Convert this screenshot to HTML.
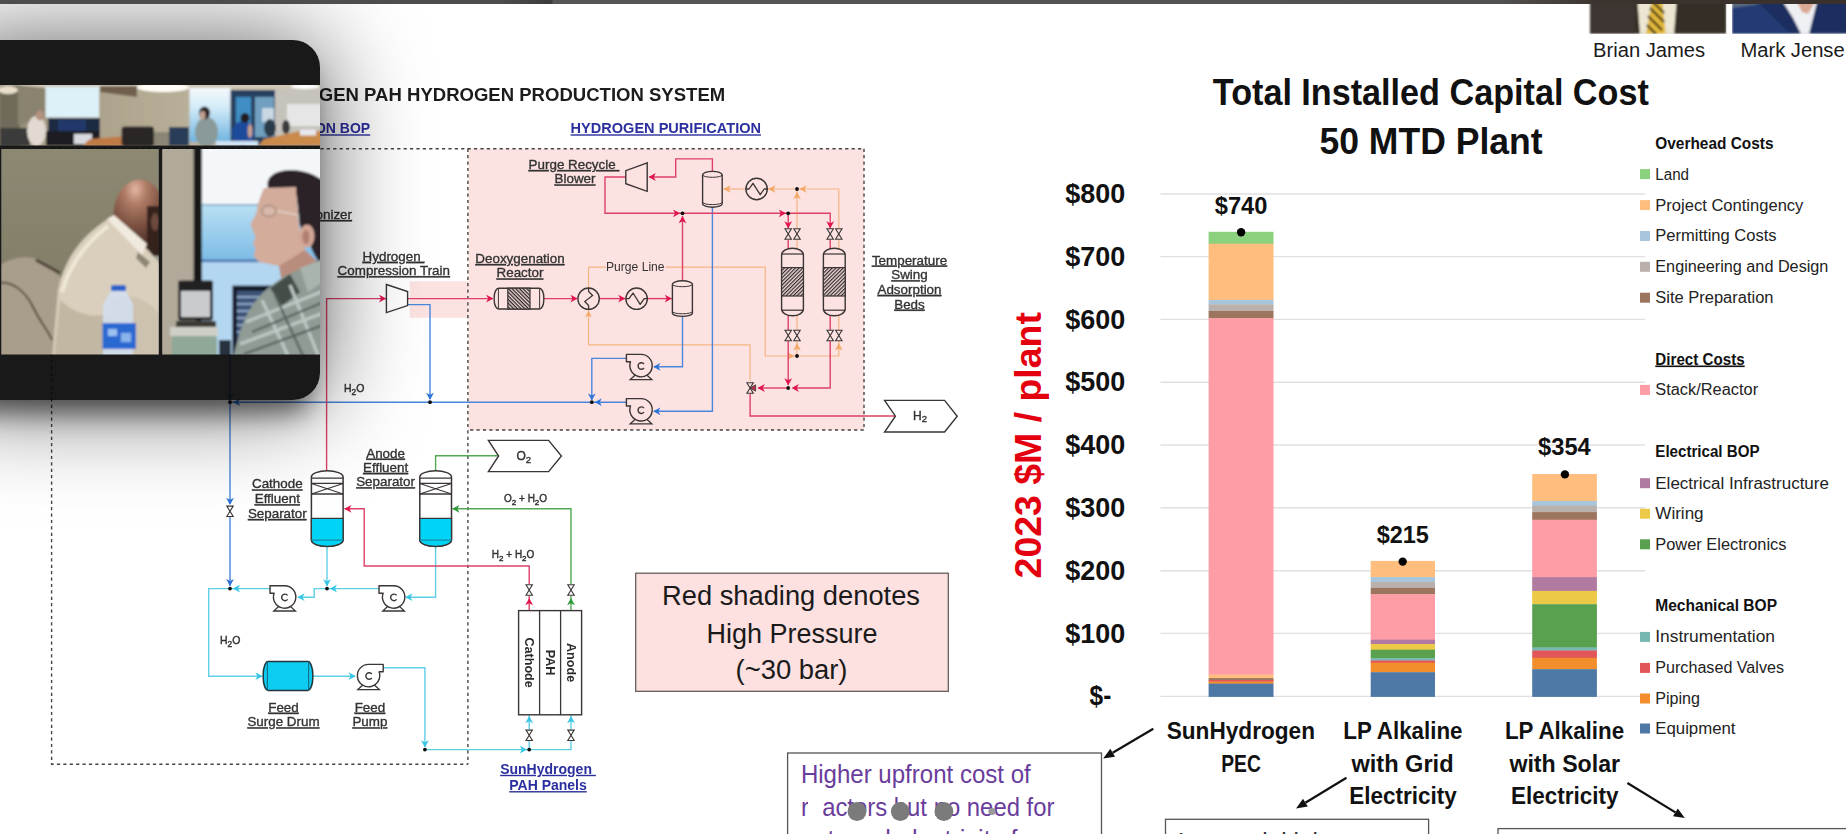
<!DOCTYPE html>
<html><head><meta charset="utf-8"><title>slide</title>
<style>
html,body{margin:0;padding:0;background:#fff;}
body{width:1846px;height:834px;overflow:hidden;position:relative;font-family:"Liberation Sans",sans-serif;}
svg{position:absolute;left:0;top:0;font-family:"Liberation Sans",sans-serif;}
#ov{position:absolute;left:-60px;top:40px;width:380px;height:359.5px;border-radius:27px;background:rgba(7,7,7,0.925);
box-shadow:0 3px 100px rgba(0,0,0,0.66), 0 22px 26px -10px rgba(0,0,0,0.55);}
#bar{position:absolute;left:0;top:0;width:1846px;height:3.6px;background:linear-gradient(90deg,#4d4d4b 0,#4d4d4b 500px,#3b3b39 552px,#565654 553px,#525150 1500px,#3c322e 1600px,#3a302c 1846px);}
</style></head><body>
<svg width="1846" height="834" viewBox="0 0 1846 834">
<defs><filter id="soft" x="0" y="0" width="100%" height="100%" filterUnits="userSpaceOnUse"><feGaussianBlur stdDeviation="0.45"/></filter></defs>
<g filter="url(#soft)">
<rect x="468.4" y="148.7" width="395.6" height="281.3" fill="#fde2e2"/>
<rect x="409.8" y="281.3" width="58.6" height="36.5" fill="#fde2e2"/>
<polyline points="51.6,148.7 864,148.7" fill="none" stroke="#444" stroke-width="1.4" stroke-dasharray="3.2 3.2"/>
<polyline points="51.6,148.7 51.6,764.2 467.9,764.2" fill="none" stroke="#444" stroke-width="1.4" stroke-dasharray="3.2 3.2"/>
<polyline points="467.9,148.7 467.9,764.2" fill="none" stroke="#444" stroke-width="1.4" stroke-dasharray="3.2 3.2"/>
<polyline points="864,148.7 864,430 467.9,430" fill="none" stroke="#444" stroke-width="1.4" stroke-dasharray="3.2 3.2"/>
<text x="318.8" y="100.5" font-size="18.5" font-weight="700" fill="#1c1c1c" textLength="406.4" lengthAdjust="spacingAndGlyphs" >GEN PAH HYDROGEN PRODUCTION SYSTEM</text>
<text x="370.2" y="133.3" font-size="14" font-weight="700" fill="#2b2f9e" text-anchor="end" text-decoration="underline" >ON BOP</text>
<text x="570.6" y="133.3" font-size="14" font-weight="700" fill="#2b2f9e" textLength="190.4" lengthAdjust="spacingAndGlyphs" text-decoration="underline" >HYDROGEN PURIFICATION</text>
<text x="352" y="219" font-size="13.4" fill="#333" text-anchor="end" text-decoration="underline" stroke="#333" stroke-width="0.35">onizer</text>
<text x="393.5" y="260.8" font-size="13.4" fill="#333" text-anchor="middle" text-decoration="underline" stroke="#333" stroke-width="0.35">Hydrogen&#160;</text>
<text x="393.8" y="275.1" font-size="13.4" fill="#333" text-anchor="middle" text-decoration="underline" stroke="#333" stroke-width="0.35">Compression Train</text>
<text x="574" y="169" font-size="13.4" fill="#333" text-anchor="middle" text-decoration="underline" stroke="#333" stroke-width="0.35">Purge Recycle&#160;</text>
<text x="575" y="183.4" font-size="13.4" fill="#333" text-anchor="middle" text-decoration="underline" stroke="#333" stroke-width="0.35">Blower</text>
<text x="520" y="263" font-size="13.4" fill="#333" text-anchor="middle" text-decoration="underline" stroke="#333" stroke-width="0.35">Deoxygenation</text>
<text x="520" y="277.4" font-size="13.4" fill="#333" text-anchor="middle" text-decoration="underline" stroke="#333" stroke-width="0.35">Reactor</text>
<text x="606" y="271" font-size="12.6" fill="#333" textLength="58.6" lengthAdjust="spacingAndGlyphs" >Purge Line</text>
<text x="909.5" y="264.5" font-size="13.4" fill="#333" text-anchor="middle" text-decoration="underline" stroke="#333" stroke-width="0.35">Temperature</text>
<text x="909.5" y="279.2" font-size="13.4" fill="#333" text-anchor="middle" text-decoration="underline" stroke="#333" stroke-width="0.35">Swing</text>
<text x="909.5" y="293.9" font-size="13.4" fill="#333" text-anchor="middle" text-decoration="underline" stroke="#333" stroke-width="0.35">Adsorption</text>
<text x="909.5" y="308.6" font-size="13.4" fill="#333" text-anchor="middle" text-decoration="underline" stroke="#333" stroke-width="0.35">Beds</text>
<text x="385.6" y="457.6" font-size="13.4" fill="#333" text-anchor="middle" text-decoration="underline" stroke="#333" stroke-width="0.35">Anode</text>
<text x="385.6" y="471.9" font-size="13.4" fill="#333" text-anchor="middle" text-decoration="underline" stroke="#333" stroke-width="0.35">Effluent</text>
<text x="385.6" y="486.2" font-size="13.4" fill="#333" text-anchor="middle" text-decoration="underline" stroke="#333" stroke-width="0.35">Separator</text>
<text x="277.3" y="488.4" font-size="13.4" fill="#333" text-anchor="middle" text-decoration="underline" stroke="#333" stroke-width="0.35">Cathode</text>
<text x="277.3" y="503.2" font-size="13.4" fill="#333" text-anchor="middle" text-decoration="underline" stroke="#333" stroke-width="0.35">Effluent</text>
<text x="277.3" y="518" font-size="13.4" fill="#333" text-anchor="middle" text-decoration="underline" stroke="#333" stroke-width="0.35">Separator</text>
<text x="283.5" y="711.7" font-size="13.4" fill="#333" text-anchor="middle" text-decoration="underline" stroke="#333" stroke-width="0.35">Feed</text>
<text x="283.5" y="726.3" font-size="13.4" fill="#333" text-anchor="middle" text-decoration="underline" stroke="#333" stroke-width="0.35">Surge Drum</text>
<text x="369.9" y="711.7" font-size="13.4" fill="#333" text-anchor="middle" text-decoration="underline" stroke="#333" stroke-width="0.35">Feed</text>
<text x="369.9" y="726.3" font-size="13.4" fill="#333" text-anchor="middle" text-decoration="underline" stroke="#333" stroke-width="0.35">Pump</text>
<text x="548" y="773.8" font-size="14" font-weight="700" fill="#2b2f9e" text-anchor="middle" text-decoration="underline" >SunHydrogen&#160;</text>
<text x="548" y="790.1" font-size="14" font-weight="700" fill="#2b2f9e" text-anchor="middle" text-decoration="underline" >PAH Panels</text>
<text x="344" y="392" font-size="10.5" fill="#333" stroke="#333" stroke-width="0.4">H<tspan dy="2.6" font-size="8.4">2</tspan><tspan dy="-2.6" font-size="1">&#8203;</tspan>O</text>
<text x="220" y="644.2" font-size="10.5" fill="#333" stroke="#333" stroke-width="0.4">H<tspan dy="2.6" font-size="8.4">2</tspan><tspan dy="-2.6" font-size="1">&#8203;</tspan>O</text>
<text x="504" y="502" font-size="10" fill="#333" stroke="#333" stroke-width="0.4">O<tspan dy="2.6" font-size="8.0">2</tspan><tspan dy="-2.6" font-size="1">&#8203;</tspan> + H<tspan dy="2.6" font-size="8.0">2</tspan><tspan dy="-2.6" font-size="1">&#8203;</tspan>O</text>
<text x="491.8" y="558" font-size="10" fill="#333" stroke="#333" stroke-width="0.4">H<tspan dy="2.6" font-size="8.0">2</tspan><tspan dy="-2.6" font-size="1">&#8203;</tspan> + H<tspan dy="2.6" font-size="8.0">2</tspan><tspan dy="-2.6" font-size="1">&#8203;</tspan>O</text>
<polyline points="588.5,310 588.5,344.8 750.1,344.8 750.1,381" fill="none" stroke="#f3b582" stroke-width="1.2" />
<polyline points="588.5,288 588.5,267.1 606,267.1" fill="none" stroke="#f3b582" stroke-width="1.2" />
<polyline points="665.5,267.1 765.2,267.1 765.2,356 838.8,356 838.8,341" fill="none" stroke="#f3b582" stroke-width="1.2" />
<polyline points="797,356 797,341" fill="none" stroke="#f3b582" stroke-width="1.2" />
<polyline points="797,330 797,240" fill="none" stroke="#f3b582" stroke-width="1.2" />
<polyline points="838.8,330 838.8,240" fill="none" stroke="#f3b582" stroke-width="1.2" />
<polyline points="838.8,228.5 838.8,189 797,189" fill="none" stroke="#f3b582" stroke-width="1.2" />
<polyline points="797,228.5 797,189 767.3,189" fill="none" stroke="#f3b582" stroke-width="1.2" />
<polyline points="745.9,189 723.6,189" fill="none" stroke="#f3b582" stroke-width="1.2" />
<polygon points="588.5,310.5 585,317.5 588.5,315.5 592,317.5" fill="#f2a968"/>
<polygon points="723.2,189 730.7,185.2 728.7,189 730.7,192.8" fill="#f2a968"/>
<polygon points="768,189 775.5,185.2 773.5,189 775.5,192.8" fill="#f2a968"/>
<polygon points="799.2,189 806.7,185.2 804.7,189 806.7,192.8" fill="#f2a968"/>
<polygon points="797,191.8 793.2,199.3 797,197.3 800.8,199.3" fill="#f2a968"/>
<polygon points="794.6,356 787.1,352.2 789.1,356 787.1,359.8" fill="#f2a968"/>
<polygon points="797,343 793.2,350.5 797,348.5 800.8,350.5" fill="#f2a968"/>
<polygon points="838.8,343 835,350.5 838.8,348.5 842.6,350.5" fill="#f2a968"/>
<polyline points="712.4,207 712.4,411.3 654,411.3" fill="none" stroke="#4a86dc" stroke-width="1.4" />
<polyline points="682.5,316 682.5,366.8 654,366.8" fill="none" stroke="#4a86dc" stroke-width="1.4" />
<polyline points="626,358.4 591.8,358.4 591.8,400" fill="none" stroke="#4a86dc" stroke-width="1.4" />
<polyline points="626,402.2 592,402.2" fill="none" stroke="#4a86dc" stroke-width="1.4" />
<polyline points="592,402.2 230,402.2" fill="none" stroke="#4a86dc" stroke-width="1.4" />
<polyline points="407.6,304.6 430,304.6 430,399" fill="none" stroke="#4a86dc" stroke-width="1.4" />
<polyline points="230,340 230,504" fill="none" stroke="#4a86dc" stroke-width="1.4" />
<polyline points="230,517 230,586" fill="none" stroke="#4a86dc" stroke-width="1.4" />
<polygon points="653.2,411.3 660.4,407.4 658.4,411.3 660.4,415.2" fill="#2f74d8"/>
<polygon points="653.2,366.8 660.4,362.9 658.4,366.8 660.4,370.7" fill="#2f74d8"/>
<polygon points="591.8,400.6 587.9,393.4 591.8,395.4 595.7,393.4" fill="#2f74d8"/>
<polygon points="594.6,402.2 601.8,398.3 599.8,402.2 601.8,406.1" fill="#2f74d8"/>
<polygon points="430,400 426.1,392.8 430,394.8 433.9,392.8" fill="#2f74d8"/>
<polygon points="233,402.2 240.2,398.3 238.2,402.2 240.2,406.1" fill="#2f74d8"/>
<polygon points="230,400.5 226.1,393.3 230,395.3 233.9,393.3" fill="#2f74d8"/>
<polygon points="230,505 226.1,497.8 230,499.8 233.9,497.8" fill="#2f74d8"/>
<polygon points="230,586.3 226.1,579.1 230,581.1 233.9,579.1" fill="#2f74d8"/>
<polyline points="327,546 327,586" fill="none" stroke="#5fcfe6" stroke-width="1.4" />
<polyline points="435.6,546 435.6,597.2 406,597.2" fill="none" stroke="#5fcfe6" stroke-width="1.4" />
<polyline points="379.3,588.6 327,588.6" fill="none" stroke="#5fcfe6" stroke-width="1.4" />
<polyline points="327,588.6 314.2,588.6 314.2,597.2 298,597.2" fill="none" stroke="#5fcfe6" stroke-width="1.4" />
<polyline points="270.3,588.6 208.7,588.6 208.7,676.2 262,676.2" fill="none" stroke="#5fcfe6" stroke-width="1.4" />
<polyline points="312.7,676.2 355,676.2" fill="none" stroke="#5fcfe6" stroke-width="1.4" />
<polyline points="384,667.8 424.9,667.8 424.9,747" fill="none" stroke="#5fcfe6" stroke-width="1.4" />
<polyline points="424.9,749.6 571,749.6 571,741" fill="none" stroke="#5fcfe6" stroke-width="1.4" />
<polyline points="529.2,749.6 529.2,741" fill="none" stroke="#5fcfe6" stroke-width="1.4" />
<polyline points="529.2,729.5 529.2,715" fill="none" stroke="#5fcfe6" stroke-width="1.4" />
<polyline points="571,729.5 571,715" fill="none" stroke="#5fcfe6" stroke-width="1.4" />
<polygon points="327,586.5 323.1,579.3 327,581.3 330.9,579.3" fill="#38c6e6"/>
<polygon points="405.2,597.2 412.4,593.3 410.4,597.2 412.4,601.1" fill="#38c6e6"/>
<polygon points="329.8,588.6 337,584.7 335,588.6 337,592.5" fill="#38c6e6"/>
<polygon points="297.4,597.2 304.6,593.3 302.6,597.2 304.6,601.1" fill="#38c6e6"/>
<polygon points="232.8,588.6 240,584.7 238,588.6 240,592.5" fill="#38c6e6"/>
<polygon points="262.6,676.2 255.4,672.3 257.4,676.2 255.4,680.1" fill="#38c6e6"/>
<polygon points="355.8,676.2 348.6,672.3 350.6,676.2 348.6,680.1" fill="#38c6e6"/>
<polygon points="424.9,747.4 421,740.2 424.9,742.2 428.8,740.2" fill="#38c6e6"/>
<polygon points="527,749.6 519.8,745.7 521.8,749.6 519.8,753.5" fill="#38c6e6"/>
<polygon points="529.2,716 525.3,723.2 529.2,721.2 533.1,723.2" fill="#38c6e6"/>
<polygon points="571,716 567.1,723.2 571,721.2 574.9,723.2" fill="#38c6e6"/>
<polyline points="435.6,471.5 435.6,455.8 498.5,455.8" fill="none" stroke="#52a852" stroke-width="1.4" />
<polyline points="571,584 571,508.8 452.5,508.8" fill="none" stroke="#52a852" stroke-width="1.4" />
<polyline points="571,596 571,611" fill="none" stroke="#52a852" stroke-width="1.4" />
<polygon points="452.2,508.8 459.4,504.9 457.4,508.8 459.4,512.7" fill="#2f9a3a"/>
<polygon points="571,598 567.1,605.2 571,603.2 574.9,605.2" fill="#2f9a3a"/>
<polyline points="326.6,471.5 326.6,298.6 386,298.6" fill="none" stroke="#dd4068" stroke-width="1.4" />
<polyline points="407.6,298.6 493,298.6" fill="none" stroke="#dd4068" stroke-width="1.4" />
<polyline points="543.8,298.6 577,298.6" fill="none" stroke="#dd4068" stroke-width="1.4" />
<polyline points="599.4,298.6 625,298.6" fill="none" stroke="#dd4068" stroke-width="1.4" />
<polyline points="647.2,298.6 671.5,298.6" fill="none" stroke="#dd4068" stroke-width="1.4" />
<polyline points="682.5,281 682.5,216" fill="none" stroke="#dd4068" stroke-width="1.4" />
<polyline points="626,177 605,177 605,213.3 830.2,213.3 830.2,228" fill="none" stroke="#dd4068" stroke-width="1.4" />
<polyline points="788.2,213.3 788.2,228" fill="none" stroke="#dd4068" stroke-width="1.4" />
<polyline points="649,177 675.7,177 675.7,158.9 712.4,158.9 712.4,171.5" fill="none" stroke="#dd4068" stroke-width="1.4" />
<polyline points="788.2,240 788.2,248.5" fill="none" stroke="#dd4068" stroke-width="1.4" />
<polyline points="830.2,240 830.2,248.5" fill="none" stroke="#dd4068" stroke-width="1.4" />
<polyline points="788.2,315.5 788.2,330" fill="none" stroke="#dd4068" stroke-width="1.4" />
<polyline points="830.2,315.5 830.2,330" fill="none" stroke="#dd4068" stroke-width="1.4" />
<polyline points="788.2,341 788.2,385" fill="none" stroke="#dd4068" stroke-width="1.4" />
<polyline points="830.2,341 830.2,388 793,388" fill="none" stroke="#dd4068" stroke-width="1.4" />
<polyline points="788.2,388 758,388" fill="none" stroke="#dd4068" stroke-width="1.4" />
<polyline points="750.1,394 750.1,416 895.5,416" fill="none" stroke="#dd4068" stroke-width="1.4" />
<polyline points="529.2,584 529.2,566 364.2,566 364.2,508.8 344.5,508.8" fill="none" stroke="#dd4068" stroke-width="1.4" />
<polyline points="529.2,596 529.2,611" fill="none" stroke="#dd4068" stroke-width="1.4" />
<polygon points="386.2,298.6 379,294.7 381,298.6 379,302.5" fill="#e0184e"/>
<polygon points="493.4,298.6 486.2,294.7 488.2,298.6 486.2,302.5" fill="#e0184e"/>
<polygon points="577.6,298.6 570.4,294.7 572.4,298.6 570.4,302.5" fill="#e0184e"/>
<polygon points="625.4,298.6 618.2,294.7 620.2,298.6 618.2,302.5" fill="#e0184e"/>
<polygon points="672,298.6 664.8,294.7 666.8,298.6 664.8,302.5" fill="#e0184e"/>
<polygon points="682.5,216 678.6,223.2 682.5,221.2 686.4,223.2" fill="#e0184e"/>
<polygon points="680.2,213.3 673,209.4 675,213.3 673,217.2" fill="#e0184e"/>
<polygon points="786,213.3 778.8,209.4 780.8,213.3 778.8,217.2" fill="#e0184e"/>
<polygon points="788.2,228.4 784.3,221.2 788.2,223.2 792.1,221.2" fill="#e0184e"/>
<polygon points="830.2,228.4 826.3,221.2 830.2,223.2 834.1,221.2" fill="#e0184e"/>
<polygon points="648.6,177 655.8,173.1 653.8,177 655.8,180.9" fill="#e0184e"/>
<polygon points="788.2,385.4 784.3,378.2 788.2,380.2 792.1,378.2" fill="#e0184e"/>
<polygon points="791.6,388 798.8,384.1 796.8,388 798.8,391.9" fill="#e0184e"/>
<polygon points="757.6,388 764.8,384.1 762.8,388 764.8,391.9" fill="#e0184e"/>
<polygon points="344.2,508.8 351.4,504.9 349.4,508.8 351.4,512.7" fill="#e0184e"/>
<polygon points="529.2,598 525.3,605.2 529.2,603.2 533.1,605.2" fill="#e0184e"/>
<circle cx="682.5" cy="213.3" r="1.9" fill="#111"/>
<circle cx="788.2" cy="213.3" r="1.9" fill="#111"/>
<circle cx="797" cy="189" r="1.9" fill="#111"/>
<circle cx="797" cy="356" r="1.9" fill="#111"/>
<circle cx="788.2" cy="388" r="1.9" fill="#111"/>
<circle cx="591.8" cy="402.2" r="1.9" fill="#111"/>
<circle cx="430" cy="402.2" r="1.9" fill="#111"/>
<circle cx="230" cy="402.2" r="1.9" fill="#111"/>
<circle cx="230" cy="588.6" r="1.9" fill="#111"/>
<circle cx="327" cy="588.6" r="1.9" fill="#111"/>
<circle cx="424.9" cy="749.6" r="1.9" fill="#111"/>
<circle cx="529.2" cy="749.6" r="1.9" fill="#111"/>
<polygon points="785,228.8 791.4,228.8 788.2,234" fill="#fde2e2" stroke="#3a3434" stroke-width="1.1" stroke-linejoin="miter"/><polygon points="785,239.2 791.4,239.2 788.2,234" fill="#fde2e2" stroke="#3a3434" stroke-width="1.1" stroke-linejoin="miter"/>
<polygon points="785,330.3 791.4,330.3 788.2,335.5" fill="#fde2e2" stroke="#3a3434" stroke-width="1.1" stroke-linejoin="miter"/><polygon points="785,340.7 791.4,340.7 788.2,335.5" fill="#fde2e2" stroke="#3a3434" stroke-width="1.1" stroke-linejoin="miter"/>
<polygon points="793.8,228.8 800.2,228.8 797,234" fill="#fde2e2" stroke="#3a3434" stroke-width="1.1" stroke-linejoin="miter"/><polygon points="793.8,239.2 800.2,239.2 797,234" fill="#fde2e2" stroke="#3a3434" stroke-width="1.1" stroke-linejoin="miter"/>
<polygon points="793.8,330.3 800.2,330.3 797,335.5" fill="#fde2e2" stroke="#3a3434" stroke-width="1.1" stroke-linejoin="miter"/><polygon points="793.8,340.7 800.2,340.7 797,335.5" fill="#fde2e2" stroke="#3a3434" stroke-width="1.1" stroke-linejoin="miter"/>
<polygon points="827,228.8 833.4,228.8 830.2,234" fill="#fde2e2" stroke="#3a3434" stroke-width="1.1" stroke-linejoin="miter"/><polygon points="827,239.2 833.4,239.2 830.2,234" fill="#fde2e2" stroke="#3a3434" stroke-width="1.1" stroke-linejoin="miter"/>
<polygon points="827,330.3 833.4,330.3 830.2,335.5" fill="#fde2e2" stroke="#3a3434" stroke-width="1.1" stroke-linejoin="miter"/><polygon points="827,340.7 833.4,340.7 830.2,335.5" fill="#fde2e2" stroke="#3a3434" stroke-width="1.1" stroke-linejoin="miter"/>
<polygon points="835.6,228.8 842,228.8 838.8,234" fill="#fde2e2" stroke="#3a3434" stroke-width="1.1" stroke-linejoin="miter"/><polygon points="835.6,239.2 842,239.2 838.8,234" fill="#fde2e2" stroke="#3a3434" stroke-width="1.1" stroke-linejoin="miter"/>
<polygon points="835.6,330.3 842,330.3 838.8,335.5" fill="#fde2e2" stroke="#3a3434" stroke-width="1.1" stroke-linejoin="miter"/><polygon points="835.6,340.7 842,340.7 838.8,335.5" fill="#fde2e2" stroke="#3a3434" stroke-width="1.1" stroke-linejoin="miter"/>
<polygon points="226.8,506.1 233.2,506.1 230,511.3" fill="#fff" stroke="#3a3434" stroke-width="1.1" stroke-linejoin="miter"/><polygon points="226.8,516.5 233.2,516.5 230,511.3" fill="#fff" stroke="#3a3434" stroke-width="1.1" stroke-linejoin="miter"/>
<polygon points="526,584.8 532.4,584.8 529.2,590" fill="#fff" stroke="#3a3434" stroke-width="1.1" stroke-linejoin="miter"/><polygon points="526,595.2 532.4,595.2 529.2,590" fill="#fff" stroke="#3a3434" stroke-width="1.1" stroke-linejoin="miter"/>
<polygon points="567.8,584.8 574.2,584.8 571,590" fill="#fff" stroke="#3a3434" stroke-width="1.1" stroke-linejoin="miter"/><polygon points="567.8,595.2 574.2,595.2 571,590" fill="#fff" stroke="#3a3434" stroke-width="1.1" stroke-linejoin="miter"/>
<polygon points="526,730.1 532.4,730.1 529.2,735.3" fill="#fff" stroke="#3a3434" stroke-width="1.1" stroke-linejoin="miter"/><polygon points="526,740.5 532.4,740.5 529.2,735.3" fill="#fff" stroke="#3a3434" stroke-width="1.1" stroke-linejoin="miter"/>
<polygon points="567.8,730.1 574.2,730.1 571,735.3" fill="#fff" stroke="#3a3434" stroke-width="1.1" stroke-linejoin="miter"/><polygon points="567.8,740.5 574.2,740.5 571,735.3" fill="#fff" stroke="#3a3434" stroke-width="1.1" stroke-linejoin="miter"/>
<polygon points="746.9,382.8 753.3,382.8 750.1,388" fill="#fde2e2" stroke="#3a3434" stroke-width="1.1" stroke-linejoin="miter"/><polygon points="746.9,393.2 753.3,393.2 750.1,388" fill="#fde2e2" stroke="#3a3434" stroke-width="1.1" stroke-linejoin="miter"/>
<polygon points="750.1,388 755.6,384.8 755.6,391.2" fill="#b8304e" stroke="#3a3434" stroke-width="0.8"/>
<polygon points="386.4,284.5 407.6,291.5 407.6,305.6 386.4,312.6" fill="#fff" stroke="#3a3434" stroke-width="1.4"/>
<polygon points="647.2,162.8 625.8,170.7 625.8,183.7 647.2,191.3" fill="#fde2e2" stroke="#3a3434" stroke-width="1.4"/>
<rect x="494.2" y="288.2" width="49.6" height="20.8" rx="4.5" ry="9" fill="#fde2e2" stroke="#3a3434" stroke-width="1.4"/>
<defs><pattern id="h1" width="2.6" height="2.6" patternUnits="userSpaceOnUse" patternTransform="rotate(45)"><rect width="2.6" height="2.6" fill="#f3d9d9"/><rect width="2.6" height="1.3" fill="#2f2a2a"/></pattern><pattern id="h2" width="2.6" height="2.6" patternUnits="userSpaceOnUse" patternTransform="rotate(-45)"><rect width="2.6" height="2.6" fill="#f3d9d9"/><rect width="2.6" height="1.2" fill="#2f2a2a"/></pattern></defs>
<rect x="507.8" y="288.2" width="22.2" height="20.8" fill="url(#h1)" stroke="#3a3434" stroke-width="1.2"/>
<polyline points="498.4,288.5 498.4,308.7" fill="none" stroke="#3a3434" stroke-width="1" />
<polyline points="539.6,288.5 539.6,308.7" fill="none" stroke="#3a3434" stroke-width="1" />
<circle cx="588.6" cy="298.7" r="10.7" fill="#fde2e2" stroke="#3a3434" stroke-width="1.4"/>
<circle cx="636.6" cy="298.7" r="10.7" fill="#fde2e2" stroke="#3a3434" stroke-width="1.4"/>
<circle cx="756.6" cy="189" r="10.7" fill="#fde2e2" stroke="#3a3434" stroke-width="1.4"/>
<polyline points="588.6,288 588.6,291.5 592.6,295.5 584.8,301.5 588.6,305.5 588.6,309.4" fill="none" stroke="#3a3434" stroke-width="1.3"/>
<path d="M626,298.7 L629,298.7 L633,293 L640.2,304.4 L644.2,298.7 L647.2,298.7" fill="none" stroke="#3a3434" stroke-width="1.3" stroke-linejoin="round"/>
<path d="M746,189 L749,189 L753,183.3 L760.2,194.7 L764.2,189 L767.2,189" fill="none" stroke="#3a3434" stroke-width="1.3" stroke-linejoin="round"/>
<path d="M672.4,284.3 A10,3.5 0 0 1 692.4,284.3 V312.9 A10,3.5 0 0 1 672.4,312.9 Z" fill="#fde2e2" stroke="#3a3434" stroke-width="1.4"/><path d="M672.4,284.3 A10,2.4 0 0 0 692.4,284.3 M672.4,311.4 A10,2.4 0 0 0 692.4,311.4" fill="none" stroke="#3a3434" stroke-width="1"/>
<path d="M702.6,174.9 A9.8,3.5 0 0 1 722.2,174.9 V203.7 A9.8,3.5 0 0 1 702.6,203.7 Z" fill="#fde2e2" stroke="#3a3434" stroke-width="1.4"/><path d="M702.6,174.9 A9.8,2.4 0 0 0 722.2,174.9 M702.6,202.2 A9.8,2.4 0 0 0 722.2,202.2" fill="none" stroke="#3a3434" stroke-width="1"/>
<path d="M781.6,255 A10.9,6.8 0 0 1 803.4,255 V309 A10.9,6.8 0 0 1 781.6,309 Z" fill="#fde2e2" stroke="#3a3434" stroke-width="1.4"/>
<polyline points="781.6,254 803.4,254" fill="none" stroke="#3a3434" stroke-width="1.2" />
<polyline points="781.6,310.2 803.4,310.2" fill="none" stroke="#3a3434" stroke-width="1.2" />
<rect x="781.6" y="267.6" width="21.8" height="28.4" fill="url(#h2)" stroke="#3a3434" stroke-width="1.2"/>
<path d="M823.4,255 A10.9,6.8 0 0 1 845.2,255 V309 A10.9,6.8 0 0 1 823.4,309 Z" fill="#fde2e2" stroke="#3a3434" stroke-width="1.4"/>
<polyline points="823.4,254 845.2,254" fill="none" stroke="#3a3434" stroke-width="1.2" />
<polyline points="823.4,310.2 845.2,310.2" fill="none" stroke="#3a3434" stroke-width="1.2" />
<rect x="823.4" y="267.6" width="21.8" height="28.4" fill="url(#h2)" stroke="#3a3434" stroke-width="1.2"/>
<path d="M311.4,477 A15.85,6.2 0 0 1 343.1,477 V540 A15.85,6.4 0 0 1 311.4,540 Z" fill="#fff" stroke="#3a3434" stroke-width="1.5"/>
<path d="M311.4,518.4 H343.1 V540 A15.85,6.4 0 0 1 311.4,540 Z" fill="#06d4f6" stroke="#3a3434" stroke-width="1.3"/>
<polyline points="311.4,540.2 343.1,540.2" fill="none" stroke="#0a8aa8" stroke-width="1.2" />
<polyline points="311.4,478.2 343.1,478.2" fill="none" stroke="#3a3434" stroke-width="1.3" />
<polyline points="311.4,483.4 343.1,483.4" fill="none" stroke="#3a3434" stroke-width="1.3" />
<polyline points="311.4,494 343.1,494" fill="none" stroke="#3a3434" stroke-width="1.3" />
<polyline points="311.4,483.6 343.1,494" fill="none" stroke="#3a3434" stroke-width="1.1" />
<polyline points="311.4,494 343.1,483.6" fill="none" stroke="#3a3434" stroke-width="1.1" />
<path d="M419.8,477 A15.85,6.2 0 0 1 451.5,477 V540 A15.85,6.4 0 0 1 419.8,540 Z" fill="#fff" stroke="#3a3434" stroke-width="1.5"/>
<path d="M419.8,518.4 H451.5 V540 A15.85,6.4 0 0 1 419.8,540 Z" fill="#06d4f6" stroke="#3a3434" stroke-width="1.3"/>
<polyline points="419.8,540.2 451.5,540.2" fill="none" stroke="#0a8aa8" stroke-width="1.2" />
<polyline points="419.8,478.2 451.5,478.2" fill="none" stroke="#3a3434" stroke-width="1.3" />
<polyline points="419.8,483.4 451.5,483.4" fill="none" stroke="#3a3434" stroke-width="1.3" />
<polyline points="419.8,494 451.5,494" fill="none" stroke="#3a3434" stroke-width="1.3" />
<polyline points="419.8,483.6 451.5,494" fill="none" stroke="#3a3434" stroke-width="1.1" />
<polyline points="419.8,494 451.5,483.6" fill="none" stroke="#3a3434" stroke-width="1.1" />
<polygon points="635,375.2 630.2,379.6 651.8,379.6 647,375.2" fill="#fde2e2" stroke="#3a3434" stroke-width="1.3"/><path d="M626.4,354.4 H641 A11.2,11.2 0 1 1 630.5,361.8 H626.4 Z" fill="#fde2e2" stroke="#3a3434" stroke-width="1.4" stroke-linejoin="round"/><path d="M644,364 A3.3,3.3 0 1 0 644,368" fill="none" stroke="#3a3434" stroke-width="1.4"/>
<polygon points="635,419.4 630.2,423.8 651.8,423.8 647,419.4" fill="#fde2e2" stroke="#3a3434" stroke-width="1.3"/><path d="M626.4,398.6 H641 A11.2,11.2 0 1 1 630.5,406 H626.4 Z" fill="#fde2e2" stroke="#3a3434" stroke-width="1.4" stroke-linejoin="round"/><path d="M644,408.2 A3.3,3.3 0 1 0 644,412.2" fill="none" stroke="#3a3434" stroke-width="1.4"/>
<polygon points="278.6,606.6 273.8,611 295.4,611 290.6,606.6" fill="#fff" stroke="#3a3434" stroke-width="1.3"/><path d="M270,585.8 H284.6 A11.2,11.2 0 1 1 274.1,593.2 H270 Z" fill="#fff" stroke="#3a3434" stroke-width="1.4" stroke-linejoin="round"/><path d="M287.6,595.4 A3.3,3.3 0 1 0 287.6,599.4" fill="none" stroke="#3a3434" stroke-width="1.4"/>
<polygon points="387.6,606.6 382.8,611 404.4,611 399.6,606.6" fill="#fff" stroke="#3a3434" stroke-width="1.3"/><path d="M379,585.8 H393.6 A11.2,11.2 0 1 1 383.1,593.2 H379 Z" fill="#fff" stroke="#3a3434" stroke-width="1.4" stroke-linejoin="round"/><path d="M396.6,595.4 A3.3,3.3 0 1 0 396.6,599.4" fill="none" stroke="#3a3434" stroke-width="1.4"/>
<polygon points="374.6,685.2 379.4,689.6 357.8,689.6 362.6,685.2" fill="#fff" stroke="#3a3434" stroke-width="1.3"/><path d="M383.2,664.4 H368.6 A11.2,11.2 0 1 0 379.1,671.8 H383.2 Z" fill="#fff" stroke="#3a3434" stroke-width="1.4" stroke-linejoin="round"/><path d="M371.8,674 A3.3,3.3 0 1 0 371.8,678" fill="none" stroke="#3a3434" stroke-width="1.4"/>
<rect x="263.2" y="661.6" width="49.6" height="28.8" rx="5" ry="13" fill="#0ecdf2" stroke="#20343c" stroke-width="1.5"/>
<polyline points="267.4,662.2 267.4,689.8" fill="none" stroke="#1a6c86" stroke-width="1.1" />
<polyline points="308.6,662.2 308.6,689.8" fill="none" stroke="#1a6c86" stroke-width="1.1" />
<rect x="518.6" y="610.6" width="63" height="104.2" fill="#fff" stroke="#3a3434" stroke-width="1.4"/>
<polyline points="539.6,610.6 539.6,714.8" fill="none" stroke="#3a3434" stroke-width="1.3" />
<polyline points="560.6,610.6 560.6,714.8" fill="none" stroke="#3a3434" stroke-width="1.3" />
<text transform="translate(524.6,662.6) rotate(90)" text-anchor="middle" font-size="12.6" font-weight="700" fill="#2a2a2a">Cathode</text>
<text transform="translate(545.6,662.6) rotate(90)" text-anchor="middle" font-size="12.6" font-weight="700" fill="#2a2a2a">PAH</text>
<text transform="translate(566.6,662.6) rotate(90)" text-anchor="middle" font-size="12.6" font-weight="700" fill="#2a2a2a">Anode</text>
<polygon points="488.4,440.4 548.6,440.4 561.4,456 548.6,471.6 488.4,471.6 498.6,456" fill="#fff" stroke="#3a3434" stroke-width="1.4"/>
<polygon points="884.6,400.4 944.6,400.4 957.2,416.2 944.6,432 884.6,432 895.4,416.2" fill="#fff" stroke="#3a3434" stroke-width="1.4"/>
<text x="516.5" y="460" font-size="12" fill="#333" stroke="#333" stroke-width="0.4">O<tspan dy="2.6" font-size="9.600000000000001">2</tspan><tspan dy="-2.6" font-size="1">&#8203;</tspan></text>
<text x="913" y="419.5" font-size="12" fill="#333" stroke="#333" stroke-width="0.4">H<tspan dy="2.6" font-size="9.600000000000001">2</tspan><tspan dy="-2.6" font-size="1">&#8203;</tspan></text>
</g>
<text x="1212.8" y="104.5" font-size="36" font-weight="700" fill="#111" textLength="436" lengthAdjust="spacingAndGlyphs" >Total Installed Capital Cost</text>
<text x="1319.4" y="154.1" font-size="36" font-weight="700" fill="#111" textLength="223.2" lengthAdjust="spacingAndGlyphs" >50 MTD Plant</text>
<line x1="1160.5" x2="1645" y1="194" y2="194" stroke="#e0e0e0" stroke-width="1.4"/>
<line x1="1160.5" x2="1645" y1="256.6" y2="256.6" stroke="#e0e0e0" stroke-width="1.4"/>
<line x1="1160.5" x2="1645" y1="319.4" y2="319.4" stroke="#e0e0e0" stroke-width="1.4"/>
<line x1="1160.5" x2="1645" y1="382.2" y2="382.2" stroke="#e0e0e0" stroke-width="1.4"/>
<line x1="1160.5" x2="1645" y1="445" y2="445" stroke="#e0e0e0" stroke-width="1.4"/>
<line x1="1160.5" x2="1645" y1="507.8" y2="507.8" stroke="#e0e0e0" stroke-width="1.4"/>
<line x1="1160.5" x2="1645" y1="570.8" y2="570.8" stroke="#e0e0e0" stroke-width="1.4"/>
<line x1="1160.5" x2="1645" y1="633.4" y2="633.4" stroke="#e0e0e0" stroke-width="1.4"/>
<line x1="1160.5" x2="1645" y1="696.4" y2="696.4" stroke="#e0e0e0" stroke-width="1.4"/>
<text x="1065.3" y="203.1" font-size="28.5" font-weight="700" fill="#111" textLength="60" lengthAdjust="spacingAndGlyphs" >$800</text>
<text x="1065.3" y="265.7" font-size="28.5" font-weight="700" fill="#111" textLength="60" lengthAdjust="spacingAndGlyphs" >$700</text>
<text x="1065.3" y="328.5" font-size="28.5" font-weight="700" fill="#111" textLength="60" lengthAdjust="spacingAndGlyphs" >$600</text>
<text x="1065.3" y="391.3" font-size="28.5" font-weight="700" fill="#111" textLength="60" lengthAdjust="spacingAndGlyphs" >$500</text>
<text x="1065.3" y="454.1" font-size="28.5" font-weight="700" fill="#111" textLength="60" lengthAdjust="spacingAndGlyphs" >$400</text>
<text x="1065.3" y="516.9" font-size="28.5" font-weight="700" fill="#111" textLength="60" lengthAdjust="spacingAndGlyphs" >$300</text>
<text x="1065.3" y="579.9" font-size="28.5" font-weight="700" fill="#111" textLength="60" lengthAdjust="spacingAndGlyphs" >$200</text>
<text x="1065.3" y="642.5" font-size="28.5" font-weight="700" fill="#111" textLength="60" lengthAdjust="spacingAndGlyphs" >$100</text>
<text x="1089.6" y="704.6" font-size="28.5" font-weight="700" fill="#111" textLength="21.7" lengthAdjust="spacingAndGlyphs" >$-</text>
<text transform="translate(1041.2,578.4) rotate(-90)" font-size="36.5" font-weight="700" fill="#e3000f" textLength="266.3" lengthAdjust="spacingAndGlyphs">2023 $M / plant</text>
<rect x="1208.6" y="231.8" width="64.9" height="12.2" fill="#8cd17d"/><rect x="1208.6" y="243.7" width="64.9" height="56.5" fill="#ffbe7d"/><rect x="1208.6" y="299.9" width="64.9" height="4.7" fill="#a9c5dc"/><rect x="1208.6" y="304.3" width="64.9" height="7" fill="#bab0ac"/><rect x="1208.6" y="311" width="64.9" height="7.5" fill="#9c755f"/><rect x="1208.6" y="318.2" width="64.9" height="356.7" fill="#ff9da7"/><rect x="1208.6" y="674.6" width="64.9" height="3.8" fill="#ffbe7d"/><rect x="1208.6" y="678.1" width="64.9" height="2.2" fill="#9c755f"/><rect x="1208.6" y="680" width="64.9" height="1.9" fill="#e15759"/><rect x="1208.6" y="681.6" width="64.9" height="2.3" fill="#f28e2b"/><rect x="1208.6" y="683.6" width="64.9" height="13.3" fill="#4e79a7"/>
<rect x="1370.7" y="560.9" width="64.3" height="16.5" fill="#ffbe7d"/><rect x="1370.7" y="577.1" width="64.3" height="5.2" fill="#a9c5dc"/><rect x="1370.7" y="582" width="64.3" height="6.2" fill="#bab0ac"/><rect x="1370.7" y="587.9" width="64.3" height="6.6" fill="#9c755f"/><rect x="1370.7" y="594.2" width="64.3" height="45.8" fill="#ff9da7"/><rect x="1370.7" y="639.7" width="64.3" height="4.6" fill="#b07aa1"/><rect x="1370.7" y="644" width="64.3" height="6" fill="#edc948"/><rect x="1370.7" y="649.7" width="64.3" height="8.7" fill="#59a14f"/><rect x="1370.7" y="658.1" width="64.3" height="2.7" fill="#76b7b2"/><rect x="1370.7" y="660.5" width="64.3" height="2.5" fill="#e15759"/><rect x="1370.7" y="662.7" width="64.3" height="9.8" fill="#f28e2b"/><rect x="1370.7" y="672.2" width="64.3" height="24.7" fill="#4e79a7"/>
<rect x="1532.2" y="474" width="64.7" height="27.2" fill="#ffbe7d"/><rect x="1532.2" y="500.9" width="64.7" height="5.1" fill="#a9c5dc"/><rect x="1532.2" y="505.7" width="64.7" height="6.7" fill="#bab0ac"/><rect x="1532.2" y="512.1" width="64.7" height="7.9" fill="#9c755f"/><rect x="1532.2" y="519.7" width="64.7" height="57.7" fill="#ff9da7"/><rect x="1532.2" y="577.1" width="64.7" height="14.1" fill="#b07aa1"/><rect x="1532.2" y="590.9" width="64.7" height="13.6" fill="#edc948"/><rect x="1532.2" y="604.2" width="64.7" height="43.6" fill="#59a14f"/><rect x="1532.2" y="647.5" width="64.7" height="3.3" fill="#76b7b2"/><rect x="1532.2" y="650.5" width="64.7" height="7.6" fill="#e15759"/><rect x="1532.2" y="657.8" width="64.7" height="11.7" fill="#f28e2b"/><rect x="1532.2" y="669.2" width="64.7" height="27.7" fill="#4e79a7"/>
<text x="1214.8" y="213.6" font-size="24.6" font-weight="700" fill="#111" textLength="52.6" lengthAdjust="spacingAndGlyphs" >$740</text>
<text x="1376.7" y="542.6" font-size="24.6" font-weight="700" fill="#111" textLength="52.2" lengthAdjust="spacingAndGlyphs" >$215</text>
<text x="1538.1" y="455" font-size="24.6" font-weight="700" fill="#111" textLength="52.7" lengthAdjust="spacingAndGlyphs" >$354</text>
<circle cx="1241.1" cy="232.2" r="4.2" fill="#000"/>
<circle cx="1402.7" cy="561.6" r="4.2" fill="#000"/>
<circle cx="1564.9" cy="474.4" r="4.2" fill="#000"/>
<text x="1166.7" y="739.3" font-size="24" font-weight="700" fill="#111" textLength="148.3" lengthAdjust="spacingAndGlyphs" >SunHydrogen</text>
<text x="1221.2" y="771.6" font-size="24" font-weight="700" fill="#111" textLength="39.6" lengthAdjust="spacingAndGlyphs" >PEC</text>
<text x="1343.3" y="739.3" font-size="24" font-weight="700" fill="#111" textLength="119.2" lengthAdjust="spacingAndGlyphs" >LP Alkaline</text>
<text x="1351.4" y="771.8" font-size="24" font-weight="700" fill="#111" textLength="102.2" lengthAdjust="spacingAndGlyphs" >with Grid</text>
<text x="1349.3" y="804.4" font-size="24" font-weight="700" fill="#111" textLength="107.5" lengthAdjust="spacingAndGlyphs" >Electricity</text>
<text x="1504.9" y="739.3" font-size="24" font-weight="700" fill="#111" textLength="119.2" lengthAdjust="spacingAndGlyphs" >LP Alkaline</text>
<text x="1509.4" y="771.8" font-size="24" font-weight="700" fill="#111" textLength="110.7" lengthAdjust="spacingAndGlyphs" >with Solar</text>
<text x="1511" y="804.4" font-size="24" font-weight="700" fill="#111" textLength="107.5" lengthAdjust="spacingAndGlyphs" >Electricity</text>
<text x="1655.3" y="148.8" font-size="16" font-weight="700" fill="#111" textLength="118.2" lengthAdjust="spacingAndGlyphs" >Overhead Costs</text>
<rect x="1640" y="169.1" width="10" height="10" fill="#8cd17d"/>
<text x="1655.3" y="179.5" font-size="16" fill="#222" textLength="33.7" lengthAdjust="spacingAndGlyphs" >Land</text>
<rect x="1640" y="200.1" width="10" height="10" fill="#ffbe7d"/>
<text x="1655.3" y="210.5" font-size="16" fill="#222" textLength="148.1" lengthAdjust="spacingAndGlyphs" >Project Contingency</text>
<rect x="1640" y="231" width="10" height="10" fill="#a9c5dc"/>
<text x="1655.3" y="241.4" font-size="16" fill="#222" textLength="121.3" lengthAdjust="spacingAndGlyphs" >Permitting Costs</text>
<rect x="1640" y="261.8" width="10" height="10" fill="#bab0ac"/>
<text x="1655.3" y="272.2" font-size="16" fill="#222" textLength="173.1" lengthAdjust="spacingAndGlyphs" >Engineering and Design</text>
<rect x="1640" y="292.7" width="10" height="10" fill="#9c755f"/>
<text x="1655.3" y="303.1" font-size="16" fill="#222" textLength="118.2" lengthAdjust="spacingAndGlyphs" >Site Preparation</text>
<text x="1655.3" y="364.5" font-size="16" font-weight="700" fill="#111" textLength="89.4" lengthAdjust="spacingAndGlyphs" text-decoration="underline" >Direct Costs</text>
<rect x="1640" y="384.9" width="10" height="10" fill="#ff9da7"/>
<text x="1655.3" y="395.3" font-size="16" fill="#222" textLength="102.8" lengthAdjust="spacingAndGlyphs" >Stack/Reactor</text>
<text x="1655.3" y="456.8" font-size="16" font-weight="700" fill="#111" textLength="104.2" lengthAdjust="spacingAndGlyphs" >Electrical BOP</text>
<rect x="1640" y="478.2" width="10" height="10" fill="#b07aa1"/>
<text x="1655.3" y="488.6" font-size="16" fill="#222" textLength="173.6" lengthAdjust="spacingAndGlyphs" >Electrical Infrastructure</text>
<rect x="1640" y="508.7" width="10" height="10" fill="#edc948"/>
<text x="1655.3" y="519.1" font-size="16" fill="#222" textLength="48.3" lengthAdjust="spacingAndGlyphs" >Wiring</text>
<rect x="1640" y="539.3" width="10" height="10" fill="#59a14f"/>
<text x="1655.3" y="549.7" font-size="16" fill="#222" textLength="131.2" lengthAdjust="spacingAndGlyphs" >Power Electronics</text>
<text x="1655.3" y="610.7" font-size="16" font-weight="700" fill="#111" textLength="121.7" lengthAdjust="spacingAndGlyphs" >Mechanical BOP</text>
<rect x="1640" y="631.9" width="10" height="10" fill="#76b7b2"/>
<text x="1655.3" y="642.3" font-size="16" fill="#222" textLength="119.7" lengthAdjust="spacingAndGlyphs" >Instrumentation</text>
<rect x="1640" y="662.9" width="10" height="10" fill="#e15759"/>
<text x="1655.3" y="673.3" font-size="16" fill="#222" textLength="128.7" lengthAdjust="spacingAndGlyphs" >Purchased Valves</text>
<rect x="1640" y="693.5" width="10" height="10" fill="#f28e2b"/>
<text x="1655.3" y="703.9" font-size="16" fill="#222" textLength="44.7" lengthAdjust="spacingAndGlyphs" >Piping</text>
<rect x="1640" y="723.5" width="10" height="10" fill="#4e79a7"/>
<text x="1655.3" y="733.9" font-size="16" fill="#222" textLength="80.2" lengthAdjust="spacingAndGlyphs" >Equipment</text>
<rect x="635.7" y="573.2" width="312.6" height="118.1" fill="#fde0e0" stroke="#5a5050" stroke-width="1.2"/>
<text x="662" y="605" font-size="27" fill="#1a1a1a" textLength="258" lengthAdjust="spacingAndGlyphs" >Red shading denotes</text>
<text x="706.6" y="642.6" font-size="27" fill="#1a1a1a" textLength="170.9" lengthAdjust="spacingAndGlyphs" >High Pressure</text>
<text x="735.5" y="679.4" font-size="27" fill="#1a1a1a" textLength="112" lengthAdjust="spacingAndGlyphs" >(~30 bar)</text>
<rect x="787.6" y="753" width="313.9" height="100" fill="#fff" stroke="#555" stroke-width="1.3"/>
<text x="800.9" y="783.2" font-size="25" fill="#6a3d9c" textLength="229.8" lengthAdjust="spacingAndGlyphs" >Higher upfront cost of</text>
<text x="800.9" y="815.6" font-size="25" fill="#6a3d9c" textLength="253.6" lengthAdjust="spacingAndGlyphs" >reactors but no need for</text>
<text x="800.9" y="848" font-size="25" fill="#6a3d9c" textLength="239.1" lengthAdjust="spacingAndGlyphs" >external electricity for</text>
<rect x="808" y="798" width="14" height="20" fill="#fff"/>
<circle cx="857" cy="811.5" r="9.4" fill="#7b7b7b"/>
<circle cx="900.3" cy="811.5" r="9.4" fill="#7b7b7b"/>
<circle cx="943.9" cy="811.5" r="9.4" fill="#7b7b7b"/>
<circle cx="992" cy="811.5" r="3.6" fill="#9a9a9a"/>
<rect x="1165.5" y="819.3" width="263.1" height="40" fill="#fff" stroke="#555" stroke-width="1.3"/>
<rect x="1498" y="828.6" width="400" height="40" fill="#fff" stroke="#555" stroke-width="1.3"/>
<text x="1178" y="850.6" font-size="25" fill="#333" textLength="140" lengthAdjust="spacingAndGlyphs" >Lowest initial</text>
<line x1="1153.3" y1="728.8" x2="1112.7" y2="752.8" stroke="#111" stroke-width="2.2"/>
<polygon points="1103.2,758.4 1110.3,748.8 1115,756.8" fill="#111"/>
<line x1="1346.5" y1="777.7" x2="1305.4" y2="802.7" stroke="#111" stroke-width="2.2"/>
<polygon points="1296,808.4 1303,798.8 1307.8,806.6" fill="#111"/>
<line x1="1627.4" y1="783" x2="1675.4" y2="812.4" stroke="#111" stroke-width="2.2"/>
<polygon points="1684.8,818.1 1673,816.3 1677.8,808.4" fill="#111"/>
</svg>
<div id="ov"></div>
<svg width="1846" height="834" viewBox="0 0 1846 834">
<defs><linearGradient id="wl" x1="0" x2="1" y1="0" y2="0"><stop offset="0" stop-color="#7d7765"/><stop offset="0.12" stop-color="#a39a84"/><stop offset="0.45" stop-color="#b3a992"/><stop offset="0.6" stop-color="#b9b09a"/><stop offset="1" stop-color="#c9c5bd"/></linearGradient><linearGradient id="win1" x1="0" x2="0" y1="0" y2="1"><stop offset="0" stop-color="#f4f8fb"/><stop offset="0.35" stop-color="#d4ecf8"/><stop offset="1" stop-color="#6fb4e0"/></linearGradient><linearGradient id="wall2" x1="0" x2="0" y1="0" y2="1"><stop offset="0" stop-color="#8d8972"/><stop offset="1" stop-color="#7c7863"/></linearGradient><linearGradient id="win2" x1="0" x2="0" y1="0" y2="1"><stop offset="0" stop-color="#b9e0f4"/><stop offset="1" stop-color="#7dbbe5"/></linearGradient><radialGradient id="head" cx="0.42" cy="0.14" r="0.95"><stop offset="0" stop-color="#e2b6a4"/><stop offset="0.22" stop-color="#b07c66"/><stop offset="0.55" stop-color="#7a4f40"/><stop offset="1" stop-color="#33201c"/></radialGradient><filter id="b1" x="-5%" y="-5%" width="110%" height="110%"><feGaussianBlur stdDeviation="0.9"/></filter><filter id="b2" x="-5%" y="-5%" width="110%" height="110%"><feGaussianBlur stdDeviation="1.25"/></filter><clipPath id="cs"><rect x="0" y="85" width="320" height="60.5"/></clipPath><clipPath id="cl"><rect x="1.3" y="149" width="157.5" height="205.4"/></clipPath><clipPath id="cr"><rect x="162.2" y="149" width="157.8" height="205.4"/></clipPath></defs>
<g clip-path="url(#cs)"><g filter="url(#b1)">
<rect x="-5" y="80" width="330" height="70" fill="url(#wl)"/>
<rect x="-5" y="80" width="330" height="9" fill="#cfc8b8"/>
<rect x="0" y="85" width="20" height="62" fill="#6f6a5a"/>
<polygon points="18,85 45,88 45,118 18,125" fill="#8a8370"/>
<polygon points="100,86 137,86 137,97 100,92" fill="#6f5f4d"/>
<ellipse cx="163" cy="87.5" rx="26" ry="4.5" fill="#fffdf6"/>
<ellipse cx="8" cy="90" rx="10" ry="4" fill="#e8e0cc"/>
<ellipse cx="305" cy="86.5" rx="14" ry="2.5" fill="#fff"/>
<rect x="45.6" y="87" width="53.6" height="30.5" fill="#dcf1f8"/>
<rect x="48" y="118" width="52" height="17" fill="#1d2942"/>
<rect x="58" y="120" width="28" height="12" fill="#22376a"/>
<rect x="0" y="128" width="30" height="18" fill="#3b3b3a"/>
<rect x="46" y="131" width="54" height="15" fill="#1c1c22"/>
<rect x="74" y="134" width="18" height="10" fill="#d8d8e0"/>
<ellipse cx="36.5" cy="131" rx="9.5" ry="15" fill="#e2dad2"/>
<ellipse cx="40" cy="115.5" rx="4.3" ry="5" fill="#b3917f"/>
<polygon points="90,139 126,136 142,146 82,146" fill="#bf7a44"/>
<rect x="121.6" y="126.5" width="32.4" height="20" rx="3" fill="#2b2826"/>
<rect x="154" y="132" width="16" height="14" fill="#8a8574"/>
<rect x="169" y="127" width="20" height="19" fill="#2c3d58"/>
<rect x="189.5" y="88" width="41.1" height="54" fill="url(#win1)"/>
<rect x="230.6" y="90" width="45" height="56" fill="#27405e"/>
<rect x="236" y="97" width="15" height="45" fill="#3f8ec4"/>
<rect x="255" y="97" width="19" height="40" fill="#6f9fc0"/>
<rect x="262" y="108" width="12" height="14" fill="#c8d8e4"/>
<rect x="275" y="89" width="50" height="50" fill="#c6c3bc"/>
<rect x="287" y="104" width="36" height="22" fill="#e6e6e6"/>
<ellipse cx="206.5" cy="132" rx="11.5" ry="15" fill="#8a9a9a"/>
<ellipse cx="204.5" cy="113" rx="5.6" ry="6.4" fill="#2a2226"/>
<ellipse cx="202.5" cy="115.5" rx="3" ry="4.4" fill="#c2a090"/>
<ellipse cx="243" cy="134" rx="11" ry="13" fill="#1c4c9c"/>
<ellipse cx="245" cy="118" rx="4.6" ry="5" fill="#241c1c"/>
<ellipse cx="250" cy="131" rx="2.4" ry="7" fill="#c8a090"/>
<ellipse cx="270" cy="128" rx="6" ry="9" fill="#2a3a4a"/>
<ellipse cx="286" cy="127" rx="4" ry="7" fill="#3a3a3e"/>
<polygon points="258,146 264,139 300,131 325,131 325,146" fill="#c98a4c"/>
<rect x="300" y="129.5" width="16" height="6" fill="#e8e8ee"/>
<rect x="216" y="141" width="42" height="5" fill="#cfe4f4"/>
</g></g>
<g clip-path="url(#cl)"><g filter="url(#b2)">
<rect x="-4" y="145" width="168" height="215" fill="url(#wall2)"/>
<rect x="151" y="250" width="14" height="115" fill="#9f9b92"/>
<path d="M-4,268 C10,256 32,254 42,262 L62,278 L54,360 L-4,360 Z" fill="#a99d8b"/>
<path d="M-2,283 C12,281 24,290 32,305 C40,322 48,330 52,340" fill="none" stroke="#4f4436" stroke-width="1.8"/>
<path d="M36,260 L60,273" stroke="#4a4034" stroke-width="3"/>
<ellipse cx="139.5" cy="215" rx="26" ry="35.5" fill="url(#head)"/>
<rect x="147" y="206" width="18" height="50" fill="#34221e"/>
<ellipse cx="155" cy="222" rx="4" ry="9" fill="#6d483c"/>
<path d="M108,219 C88,232 66,252 58,290 L52,360 L164,360 L164,268 L148,250 L126,230 Z" fill="#d9cfbc"/>
<path d="M107,219 L114,215 L147,244 L142,255 Z" fill="#f0eade"/>
<path d="M60,300 C80,318 100,318 112,312 L120,360 L54,360 Z" fill="#c2b7a2"/>
<path d="M110,300 C130,290 150,300 164,320 L164,360 L118,360 Z" fill="#cdc2ae"/>
<path d="M138,252 L150,262 L146,268 L136,258 Z" fill="#8d8676"/>
<path d="M62,292 C70,262 90,240 108,226" fill="none" stroke="#efe8d8" stroke-width="4"/>
<rect x="111" y="285" width="15" height="6.5" rx="1.5" fill="#2b62cc"/>
<path d="M111,291 H126 L133,304 V360 H103 V304 Z" fill="#d3dfee" fill-opacity="0.9"/>
<rect x="102.5" y="323" width="33.5" height="26" fill="#2a69d2"/>
<rect x="108" y="329" width="9" height="7" fill="#9cc2f0"/><rect x="121" y="333" width="10" height="9" fill="#8ab4ec"/>
</g></g>
<g clip-path="url(#cr)"><g filter="url(#b2)">
<rect x="158" y="145" width="38" height="215" fill="#b1a999"/>
<rect x="201.4" y="145" width="124" height="62" fill="#f4f7fa"/>
<rect x="201.4" y="204.5" width="124" height="56" fill="url(#win2)"/>
<rect x="201.4" y="262" width="124" height="98" fill="#b3d6f1"/>
<rect x="201.4" y="259.4" width="60" height="2.8" fill="#4f7fb6"/>
<rect x="201.4" y="204" width="60" height="1.6" fill="#7fa6c8"/>
<rect x="193.7" y="145" width="7.9" height="136" fill="#161616"/>
<rect x="232.4" y="285.6" width="40" height="80" fill="#131b2b"/>
<rect x="237" y="291" width="30" height="52" fill="#3d5378"/>
<path d="M237,297 H267 M237,304 H267 M237,311 H267 M237,318 H267 M237,325 H267 M237,332 H267" stroke="#8fa6c6" stroke-width="2"/>
<path d="M268,188 C265,176 277,170 291,170 C306,170 318,176 326,183 L326,268 C318,262 313,254 310,244 L300,226 L297,197 C290,191 280,189 268,188 Z" fill="#2c2227"/>
<path d="M264,188 L296,187 L299,226 L305,250 L326,270 L326,288 L283,288 L279,266 L259,262 L253.5,256 L255.5,249 L253,243 L255.5,238 L250.5,224 L256,214 L258,204 L261,195 Z" fill="#d3ac9c"/>
<path d="M279,266 L305,250 L326,270 L326,288 L283,288 Z" fill="#b98d7d"/>
<ellipse cx="307" cy="236" rx="7.5" ry="11.5" fill="#d2a595"/>
<ellipse cx="306" cy="237" rx="3.5" ry="7" fill="#b07f70"/>
<path d="M262,208 L298,215" stroke="#e2d2c4" stroke-width="1.6"/><ellipse cx="269" cy="211" rx="7" ry="5.5" fill="#d8b8a8" stroke="#a08878" stroke-width="1.3"/>
<path d="M296,188 L300,226 L303,226 L304,200 Z" fill="#2c2227"/>
<path d="M232,360 L240,332 C246,312 256,298 268,288 L284,276 L302,268 L326,262 L326,360 Z" fill="#8f9b94"/>
<path d="M270,288 L290,274 L300,292 L282,306 Z" fill="#454d49"/>
<path d="M300,268 L326,258 L326,280 L308,292 Z" fill="#a9b4ae"/>
<path d="M246,322 L326,290 M240,344 L326,312 M262,300 L290,360 M290,285 L320,360" stroke="#bcc7c3" stroke-width="3.2" fill="none"/>
<path d="M252,332 L326,301 M275,295 L305,360 M244,354 L326,324" stroke="#56615d" stroke-width="2.2" fill="none"/>
<rect x="178.2" y="280.5" width="34.8" height="40" rx="2" fill="#232323"/>
<rect x="181" y="291" width="29" height="26" fill="#c9cbcd"/>
<rect x="176" y="321" width="40" height="6" fill="#3c3a36"/>
<rect x="170" y="327" width="48" height="9" fill="#cfcfc8"/>
<rect x="172" y="336" width="45" height="24" rx="3" fill="#8fa898"/>
<rect x="219" y="340" width="12" height="20" fill="#26303c"/>
</g></g>
<g filter="url(#b1)">
<rect x="1590" y="2" width="136.4" height="31.8" fill="#352d28"/>
<rect x="1590" y="2" width="45" height="31.8" fill="#3d3630"/>
<polygon points="1637.5,2 1676.5,2 1674,33.8 1640,33.8" fill="#ece6d2"/>
<polygon points="1651.5,2 1662.5,2 1665.6,33.8 1646,33.8" fill="#e3b93a"/>
<path d="M1650,8 L1664,22 M1648,16 L1662,30 M1647,25 L1656,34 M1653,2 L1664,13" stroke="#1d170f" stroke-width="2.2"/>
<rect x="1732" y="2" width="120" height="31.8" fill="#1b2f5e"/>
<polygon points="1732,2 1762,2 1740,12 1732,14" fill="#5b6a82"/>
<polygon points="1732,8 1760,4 1790,33.8 1732,33.8" fill="#203a74"/>
<polygon points="1783,2 1817,2 1809,33.8 1801,33.8 1793,18" fill="#eef0f4"/>
<polygon points="1797,2 1815,2 1808,14 1802,12" fill="#d9a892"/>
</g>
<rect x="1585" y="33.9" width="270" height="6" fill="#fff"/>
<rect x="1726.4" y="3" width="5.6" height="32" fill="#fff"/>
<text x="1593" y="57" font-size="19.4" fill="#1b1b1b" textLength="112.2" lengthAdjust="spacingAndGlyphs" >Brian James</text>
<text x="1740.4" y="57" font-size="19.4" fill="#1b1b1b" textLength="104.3" lengthAdjust="spacingAndGlyphs" >Mark Jense</text>
</svg>
<div id="bar"></div>
</body></html>
